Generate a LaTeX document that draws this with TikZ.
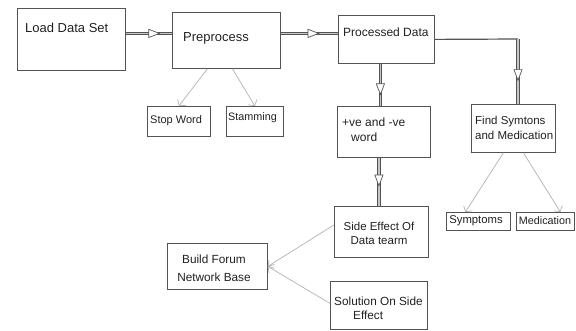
\documentclass[tikz,border=0pt]{standalone}
\usepackage{fontspec}
\setmainfont{Liberation Sans}
\usetikzlibrary{arrows.meta,decorations.markings}

\tikzset{
    box/.style={draw=gray!65!black, line width=0.8pt, rectangle, inner sep=0pt, anchor=north west},
    txt/.style={inner sep=0pt, text=gray!25!black, font=\fontsize{12}{15}\selectfont},
    flow/.style={draw=gray!45, line width=1.5pt,
        preaction={draw=gray!65!black, line width=3.3pt},
        postaction={decorate, decoration={markings, mark=at position #1 with
            {\arrow[draw=gray!65!black, line width=0.7pt]{Triangle[fill=white, length=12pt, width=9pt]}}}}},
    link/.style={draw=gray!60, line width=0.7pt, -{Straight Barb[length=4pt, width=10pt]}},
    plain/.style={draw=gray!65!black, line width=1.2pt},
}

\begin{document}
\begin{tikzpicture}[x=1pt, y=-1pt]
    \useasboundingbox (0,0) rectangle (576,330);

    % boxes
    \node[box, minimum width=108pt, minimum height=62pt] (load) at (17,8) {};
    \node[box, minimum width=108pt, minimum height=56pt] (pre) at (172,12) {};
    \node[box, minimum width=96pt, minimum height=48pt] (proc) at (338,15) {};
    \node[box, minimum width=63pt, minimum height=30pt] (stop) at (147,106) {};
    \node[box, minimum width=57pt, minimum height=30pt] (stam) at (226,106) {};
    \node[box, minimum width=93pt, minimum height=51pt] (pos) at (337,106) {};
    \node[box, minimum width=84pt, minimum height=48pt] (find) at (471,104) {};
    \node[box, minimum width=64pt, minimum height=18pt] (symp) at (446,212) {};
    \node[box, minimum width=58pt, minimum height=18pt] (med) at (516,212) {};
    \node[box, minimum width=94pt, minimum height=51pt] (side) at (334,206) {};
    \node[box, minimum width=100pt, minimum height=46pt] (build) at (167,243) {};
    \node[box, minimum width=97pt, minimum height=48pt] (sol) at (330,281) {};

    % texts
    \node[txt, anchor=west, font=\fontsize{13}{15}\selectfont] (load-t) at (25,28) {Load Data Set};
    \node[txt, anchor=west, font=\fontsize{13}{15}\selectfont] (pre-t) at (183,38) {Preprocess};
    \node[txt, anchor=west] (proc-t) at (343,32) {Processed Data};
    \node[txt, anchor=west, font=\fontsize{11}{13}\selectfont] (stop-t) at (150,121) {Stop Word};
    \node[txt, anchor=west, font=\fontsize{10.8}{13}\selectfont] (stam-t) at (228,118) {Stamming};
    \node[txt, anchor=west, align=left] (pos-t) at (342,129.5) {+ve and -ve\\\hspace*{9pt}word};
    \node[txt, anchor=west, align=left, font=\fontsize{11.5}{15}\selectfont] (find-t) at (475,127.5) {Find Symtons\\and Medication};
    \node[txt, font=\fontsize{11.3}{13}\selectfont] (symp-t) at (476,221) {Symptoms};
    \node[txt, font=\fontsize{10.8}{13}\selectfont] (med-t) at (545,221) {Medication};
    \node[txt, align=center, font=\fontsize{11.5}{14}\selectfont] (side-t) at (379,233) {Side Effect Of\\Data tearm};
    \node[txt, align=center, font=\fontsize{11.8}{18}\selectfont] (build-t) at (214,268) {Build Forum\\Network Base};
    \node[txt, anchor=west, align=left, font=\fontsize{11.8}{13.5}\selectfont] (sol-t) at (334,308.5) {Solution On Side\\\hspace*{19pt}Effect};

    % connectors
    \draw[flow=0.75] ([yshift=6pt]load.east) -- ([yshift=6pt]load.east -| pre.west);
    \draw[flow=0.68] ([yshift=7pt]pre.east) -- ([yshift=7pt]pre.east -| proc.west);
    \draw[flow=0.75] ([xshift=-6pt]proc.south) -- ([xshift=-6pt]proc.south |- pos.north);
    \coordinate (bend) at (518,39);
    \draw[plain] (proc.east) -- (bend);
    \draw[flow=0.65] (bend) -- (bend |- find.north);
    \draw[flow=0.6] ([xshift=-5pt]pos.south) -- ([xshift=-5pt]pos.south |- side.north);

    \draw[link] ([xshift=-19pt]pre.south) -- (stop.north);
    \draw[link] ([xshift=6pt]pre.south) -- (stam.north);
    \draw[link] ([xshift=-10pt]find.south) -- ([xshift=-13pt]symp.north);
    \draw[link] ([xshift=10pt]find.south) -- ([xshift=15pt]med.north);
    \draw[link] ([yshift=7pt]side.west) -- (build.east);
    \draw[link] ([yshift=2pt]sol.west) -- (build.east);
\end{tikzpicture}
\end{document}
